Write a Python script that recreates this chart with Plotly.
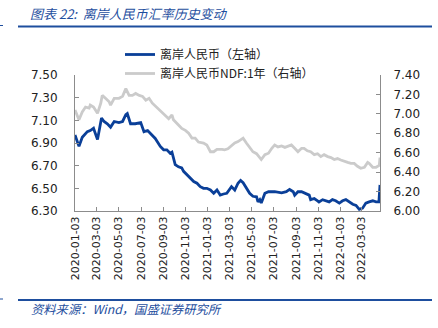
import plotly.graph_objects as go

# ---------------- data ----------------
cnh_dates = [
    "2020-01-03", "2020-01-14", "2020-01-23", "2020-02-06", "2020-02-14", "2020-02-23",
    "2020-03-05", "2020-03-16", "2020-03-23", "2020-04-01", "2020-04-10", "2020-04-20",
    "2020-05-03", "2020-05-13", "2020-05-22", "2020-05-26", "2020-06-04", "2020-06-17",
    "2020-07-02", "2020-07-11", "2020-07-21", "2020-08-11", "2020-08-25", "2020-09-03",
    "2020-09-12", "2020-09-21", "2020-09-26", "2020-09-30", "2020-10-05", "2020-10-14",
    "2020-10-23", "2020-10-28", "2020-11-06", "2020-11-15", "2020-11-25", "2020-12-04",
    "2020-12-13", "2020-12-22", "2020-12-31", "2021-01-10", "2021-01-19", "2021-01-28",
    "2021-02-06", "2021-02-15", "2021-02-24", "2021-03-09", "2021-03-18", "2021-03-27",
    "2021-04-03", "2021-04-10", "2021-04-19", "2021-04-28", "2021-05-07", "2021-05-17",
    "2021-05-21", "2021-05-26", "2021-05-30", "2021-06-09", "2021-06-19", "2021-07-06",
    "2021-07-25", "2021-08-07", "2021-08-16", "2021-08-26", "2021-08-30", "2021-09-08",
    "2021-09-18", "2021-09-30", "2021-10-09", "2021-10-13", "2021-10-23", "2021-11-01",
    "2021-11-05", "2021-11-15", "2021-11-24", "2021-12-03", "2021-12-12", "2021-12-21",
    "2021-12-31", "2022-01-09", "2022-01-18", "2022-01-27", "2022-02-06", "2022-02-15",
    "2022-02-24", "2022-03-05", "2022-03-14", "2022-03-23", "2022-04-02", "2022-04-11",
    "2022-04-19", "2022-04-22",
]
cnh_values = [
    6.97, 6.87, 6.95, 7.00, 7.01, 7.03,
    6.93, 7.12, 7.09, 7.07, 7.04, 7.09,
    7.08, 7.09, 7.15, 7.16, 7.07, 7.07,
    7.08, 7.00, 7.01, 6.94, 6.87, 6.84,
    6.84, 6.81, 6.82, 6.765, 6.71, 6.69,
    6.68, 6.65, 6.62, 6.59, 6.56, 6.545,
    6.515, 6.50, 6.50, 6.485, 6.456, 6.485,
    6.44, 6.45, 6.456, 6.515, 6.485, 6.545,
    6.57, 6.55, 6.50, 6.456, 6.43, 6.425,
    6.38, 6.40, 6.37, 6.456, 6.47, 6.47,
    6.46, 6.47, 6.49, 6.47, 6.44, 6.47,
    6.47, 6.456, 6.44, 6.40, 6.41, 6.39,
    6.38, 6.40, 6.39, 6.38, 6.40, 6.39,
    6.37, 6.39, 6.40, 6.38, 6.36, 6.35,
    6.315, 6.325, 6.37, 6.38, 6.39, 6.38,
    6.38, 6.53,
]

ndf_dates = [
    "2020-01-03", "2020-01-14", "2020-01-23", "2020-02-01", "2020-02-11", "2020-02-14",
    "2020-02-23", "2020-03-05", "2020-03-14", "2020-03-18", "2020-03-27", "2020-04-06",
    "2020-04-10", "2020-04-20", "2020-05-03", "2020-05-13", "2020-05-22", "2020-05-31",
    "2020-06-09", "2020-06-18", "2020-06-28", "2020-07-07", "2020-07-16", "2020-07-25",
    "2020-08-03", "2020-08-15", "2020-08-29", "2020-09-07", "2020-09-17", "2020-09-26",
    "2020-09-30", "2020-10-14", "2020-10-23", "2020-11-02", "2020-11-11", "2020-11-20",
    "2020-11-29", "2020-12-08", "2020-12-22", "2020-12-31", "2021-01-10", "2021-01-19",
    "2021-01-28", "2021-02-11", "2021-02-18", "2021-02-27", "2021-03-09", "2021-03-18",
    "2021-03-27", "2021-04-05", "2021-04-10", "2021-04-19", "2021-04-28", "2021-05-07",
    "2021-05-17", "2021-05-26", "2021-05-30", "2021-06-09", "2021-06-19", "2021-06-28",
    "2021-07-06", "2021-07-15", "2021-07-25", "2021-08-03", "2021-08-12", "2021-08-21",
    "2021-08-30", "2021-09-08", "2021-09-18", "2021-09-25", "2021-10-04", "2021-10-13",
    "2021-10-23", "2021-11-01", "2021-11-10", "2021-11-19", "2021-11-29", "2021-12-08",
    "2021-12-17", "2021-12-26", "2022-01-04", "2022-01-13", "2022-01-23", "2022-02-01",
    "2022-02-10", "2022-02-19", "2022-02-28", "2022-03-10", "2022-03-19", "2022-03-23",
    "2022-04-02", "2022-04-11", "2022-04-20", "2022-04-22",
]
ndf_values = [
    7.04, 6.94, 7.02, 7.07, 7.06, 7.09,
    7.07, 7.005, 7.11, 7.19, 7.16, 7.125,
    7.09, 7.16, 7.16, 7.18, 7.26, 7.19,
    7.19, 7.21, 7.19, 7.18, 7.14, 7.16,
    7.11, 7.07, 7.02, 6.99, 6.95, 6.99,
    6.94, 6.885, 6.85, 6.83, 6.80, 6.75,
    6.75, 6.71, 6.70, 6.68, 6.61, 6.61,
    6.635, 6.635, 6.63, 6.64, 6.67, 6.70,
    6.715, 6.74, 6.75, 6.70, 6.66, 6.61,
    6.59, 6.54, 6.53, 6.58, 6.595, 6.645,
    6.68, 6.66, 6.67, 6.655, 6.67, 6.68,
    6.645, 6.61, 6.645, 6.645, 6.62, 6.61,
    6.58, 6.59, 6.56, 6.58, 6.56, 6.55,
    6.53, 6.54, 6.525, 6.51, 6.50, 6.49,
    6.49, 6.46, 6.44, 6.45, 6.50, 6.49,
    6.45, 6.45, 6.47, 6.55,
]

x_tick_labels = [
    "2020-01-03", "2020-03-03", "2020-05-03", "2020-07-03", "2020-09-03", "2020-11-03",
    "2021-01-03", "2021-03-03", "2021-05-03", "2021-07-03", "2021-09-03", "2021-11-03",
    "2022-01-03", "2022-03-03",
]
left_ticks = [6.30, 6.50, 6.70, 6.90, 7.10, 7.30, 7.50]
right_ticks = [6.00, 6.20, 6.40, 6.60, 6.80, 7.00, 7.20, 7.40]

series_names = ["离岸人民币（左轴）", "离岸人民币NDF:1年（右轴）"]
title_text = "图表 22:  离岸人民币汇率历史变动"
source_text = "资料来源：Wind，国盛证券研究所"

# ---------------- layout geometry ----------------
W, H = 438, 328
L, R, T, B = 75, 58, 75, 117
PW, PH = W - L - R, H - T - B


def pxx(x):
    return (x - L) / PW


def pxy(y):
    return (H - B - y) / PH


BLUE = "#0A3F98"
GREY = "#CBCBCB"
TITLE_BLUE = "#1E4E9E"
AXIS = "#8C8C8C"
CJK = "Noto Sans CJK SC"
NUM = "DejaVu Sans"

fig = go.Figure()
fig.add_trace(go.Scatter(
    x=cnh_dates, y=cnh_values, mode="lines", name=series_names[0],
    line=dict(color=BLUE, width=2.8), yaxis="y",
))
fig.add_trace(go.Scatter(
    x=ndf_dates, y=ndf_values, mode="lines", name=series_names[1],
    line=dict(color=GREY, width=2.8), yaxis="y2",
))

fig.update_layout(
    width=W, height=H, autosize=False,
    margin=dict(l=L, r=R, t=T, b=B, pad=0),
    paper_bgcolor="white", plot_bgcolor="white",
    font=dict(family=NUM, size=11, color="#222222"),
    showlegend=True,
    legend=dict(
        x=pxx(120), y=pxy(40), xanchor="left", yanchor="top",
        bgcolor="rgba(0,0,0,0)", borderwidth=0,
        font=dict(family=CJK, size=12, color="#222222"),
        tracegroupgap=0, itemwidth=30,
    ),
    xaxis=dict(
        type="date", range=["2020-01-03", "2022-04-22"],
        tickmode="array", tickvals=x_tick_labels, ticktext=x_tick_labels,
        tickangle=-90, ticks="inside", ticklen=4, tickcolor=AXIS,
        showline=True, linecolor=AXIS, linewidth=1,
        showgrid=False, zeroline=False,
        tickfont=dict(family=NUM, size=11, color="#222222"),
    ),
    yaxis=dict(
        range=[6.30, 7.50], tickmode="array", tickvals=left_ticks,
        ticktext=[f"{v:.2f}" for v in left_ticks],
        ticks="inside", ticklen=4, tickcolor=AXIS,
        showline=True, linecolor=AXIS, linewidth=1,
        showgrid=False, zeroline=False,
        tickfont=dict(family=NUM, size=12, color="#222222"),
        ticklabelstandoff=14,
    ),
    yaxis2=dict(
        range=[6.00, 7.40], tickmode="array", tickvals=right_ticks,
        ticktext=[f"{v:.2f}" for v in right_ticks],
        overlaying="y", side="right",
        ticks="inside", ticklen=4, tickcolor=AXIS,
        showline=True, linecolor=AXIS, linewidth=1,
        showgrid=False, zeroline=False,
        tickfont=dict(family=NUM, size=12, color="#222222"),
        ticklabelstandoff=10,
    ),
)

# title & source
fig.add_annotation(
    x=pxx(28), y=pxy(13), xref="paper", yref="paper", xanchor="left", yanchor="middle",
    text=title_text, showarrow=False,
    font=dict(family=CJK, size=13, color=TITLE_BLUE, style="italic"),
)
fig.add_annotation(
    x=pxx(29), y=pxy(309), xref="paper", yref="paper", xanchor="left", yanchor="middle",
    text=source_text, showarrow=False,
    font=dict(family=CJK, size=12.3, color=TITLE_BLUE, style="italic"),
)
# rules
for yy in (26.5, 300):
    fig.add_shape(type="line", xref="paper", yref="paper",
                  x0=pxx(18), x1=pxx(432), y0=pxy(yy), y1=pxy(yy),
                  line=dict(color=TITLE_BLUE, width=2))
    fig.add_shape(type="line", xref="paper", yref="paper",
                  x0=pxx(0), x1=pxx(3), y0=pxy(yy - 1), y1=pxy(yy - 1),
                  line=dict(color=TITLE_BLUE, width=1))

fig.write_html("out.html")
